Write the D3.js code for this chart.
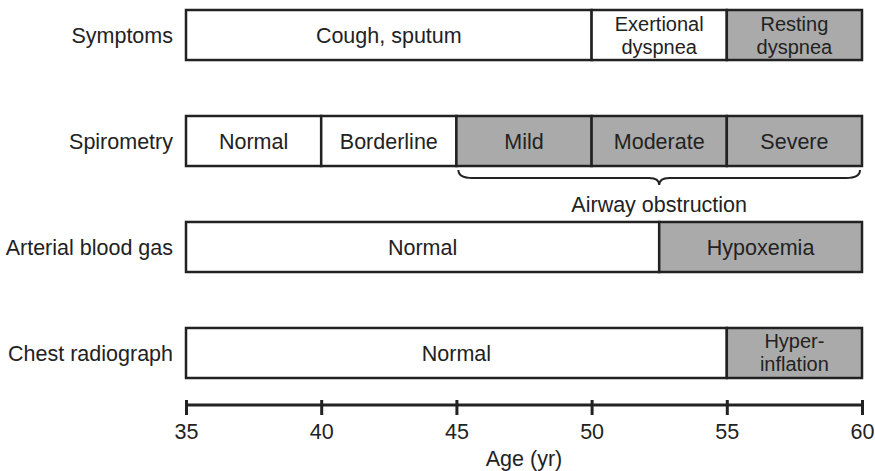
<!DOCTYPE html>
<html><head><meta charset="utf-8">
<script src="https://cdn.jsdelivr.net/npm/d3@7"></script>
<style>body{margin:0;background:#fff;} text{font-family:"Liberation Sans",Arial,sans-serif;fill:#222;}</style>
</head><body><svg id="c" width="875" height="471"></svg>
<script>
const rows = ["Symptoms", "Spirometry", "Arterial blood gas", "Chest radiograph"];
const symptoms = [
  {start:35, end:50, label:["Cough, sputum"], shaded:false},
  {start:50, end:55, label:["Exertional","dyspnea"], shaded:false},
  {start:55, end:60, label:["Resting","dyspnea"], shaded:true}
];
const spirometry = [
  {start:35, end:40, label:["Normal"], shaded:false},
  {start:40, end:45, label:["Borderline"], shaded:false},
  {start:45, end:50, label:["Mild"], shaded:true},
  {start:50, end:55, label:["Moderate"], shaded:true},
  {start:55, end:60, label:["Severe"], shaded:true}
];
const bloodGas = [
  {start:35, end:52.5, label:["Normal"], shaded:false},
  {start:52.5, end:60, label:["Hypoxemia"], shaded:true}
];
const radiograph = [
  {start:35, end:55, label:["Normal"], shaded:false},
  {start:55, end:60, label:["Hyper-","inflation"], shaded:true}
];
const rowSegments = [symptoms, spirometry, bloodGas, radiograph];
const brace = {start:45, end:60, label:"Airway obstruction"};
const ageTicks = [35, 40, 45, 50, 55, 60];
const axisTitle = "Age (yr)";

const svg = d3.select("#c");
const x = d3.scaleLinear().domain([35,60]).range([186,862]);
const y = d3.scaleBand().domain(rows).range([10,378]).paddingInner(0.528).paddingOuter(0);
const fs = 21.5;

rows.forEach((r,i)=>{
  const g = svg.append("g");
  const y0 = y(r), h = y.bandwidth();
  g.append("text").attr("x",173).attr("y",y0+h/2).attr("dy","0.35em")
    .attr("text-anchor","end").attr("font-size",fs).text(r);
  rowSegments[i].forEach(s=>{
    g.append("rect").attr("x",x(s.start)).attr("y",y0)
      .attr("width",x(s.end)-x(s.start)).attr("height",h)
      .attr("fill",s.shaded?"#aaaaaa":"#fff")
      .attr("stroke","#222").attr("stroke-width",2.5);
    const cx=(x(s.start)+x(s.end))/2;
    const n=s.label.length, lh=23;
    const f = n>1 ? 20 : fs;
    s.label.forEach((t,j)=>{
      g.append("text").attr("x",cx).attr("y",y0+h/2+(j-(n-1)/2)*lh)
        .attr("dy","0.35em").attr("text-anchor","middle").attr("font-size",f).text(t);
    });
  });
});

// brace under spirometry
const by = y("Spirometry")+y.bandwidth()+4;
const bx0 = x(brace.start)+2, bx1 = x(brace.end)-2, bm=(bx0+bx1)/2;
const bp = d3.path();
bp.moveTo(bx0,by);
bp.quadraticCurveTo(bx0,by+8,bx0+14,by+8);
bp.lineTo(bm-10,by+8);
bp.quadraticCurveTo(bm,by+8,bm,by+15);
bp.quadraticCurveTo(bm,by+8,bm+10,by+8);
bp.lineTo(bx1-14,by+8);
bp.quadraticCurveTo(bx1,by+8,bx1,by);
svg.append("path").attr("d",bp.toString()).attr("fill","none").attr("stroke","#222").attr("stroke-width",2);
svg.append("text").attr("x",bm).attr("y",by+34).attr("dy","0.35em")
  .attr("text-anchor","middle").attr("font-size",fs).text(brace.label);

// axis
const axisY = 405;
const ax = svg.append("g").attr("transform",`translate(0,${axisY})`)
  .call(d3.axisBottom(x).tickValues(ageTicks).tickSize(10).tickPadding(9).tickFormat(d3.format("d")));
ax.select(".domain").attr("stroke","#222").attr("stroke-width",3).attr("d",`M${x(35)},0H${x(60)}`);
ax.selectAll(".tick line").attr("stroke","#222").attr("stroke-width",3).attr("y1",-5);
ax.selectAll(".tick text").attr("font-size",fs).attr("fill","#222")
  .attr("font-family","Liberation Sans, Arial, sans-serif");
svg.append("text").attr("x",x(47.5)).attr("y",458).attr("dy","0.35em")
  .attr("text-anchor","middle").attr("font-size",fs).text(axisTitle);
</script></body></html>
